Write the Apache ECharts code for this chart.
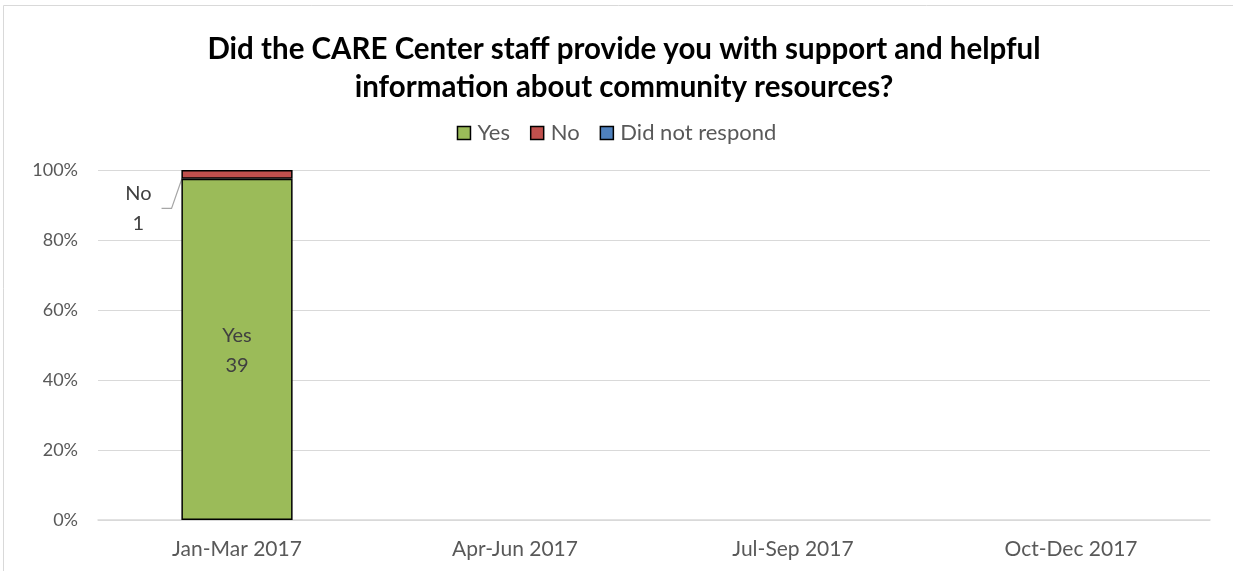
<!DOCTYPE html>
<html>
<head>
<meta charset="utf-8">
<script src="https://cdn.jsdelivr.net/npm/echarts@6/dist/echarts.min.js"></script>
<style>
  html, body { margin: 0; padding: 0; background: #fff; }
  #chart { width: 1233px; height: 571px; }
</style>
</head>
<body>
<div id="chart"></div>
<script>
// Quarterly survey responses (counts)
const categories = ['Jan-Mar 2017', 'Apr-Jun 2017', 'Jul-Sep 2017', 'Oct-Dec 2017'];
const yesCounts = [39, 0, 0, 0];
const noCounts = [1, 0, 0, 0];
const noResponseCounts = [0, 0, 0, 0];
const yTicks = [0, 20, 40, 60, 80, 100];

// Convert counts to shares of each quarter's total for the 100% stack;
// empty quarters get no bar at all
const totals = categories.map((_, i) => yesCounts[i] + noCounts[i] + noResponseCounts[i]);
const share = (arr) => arr.map((v, i) => (v && totals[i])
  ? { value: (v / totals[i]) * 100, count: v }
  : { value: null, count: 0 });

const FONT = 'Lato, "Open Sans", sans-serif';
const GREY = '#595959';

const chart = echarts.init(document.getElementById('chart'));
chart.setOption({
  animation: false,
  title: {
    text: 'Did the CARE Center staff provide you with support and helpful\ninformation about community resources?',
    left: 619,
    textAlign: 'center',
    top: 25,
    textStyle: {
      fontFamily: FONT,
      fontSize: 29.5,
      fontWeight: 'bold',
      color: '#000',
      lineHeight: 38
    }
  },
  legend: {
    top: 117,
    left: 'center',
    itemWidth: 13,
    itemHeight: 13,
    itemGap: 20,
    icon: 'rect',
    itemStyle: { borderColor: '#000', borderWidth: 1.5 },
    textStyle: { fontFamily: FONT, fontSize: 22, color: GREY, padding: [0, 0, 0, 2] },
    data: ['Yes', 'No', 'Did not respond']
  },
  grid: { left: 98, right: 23, top: 170, bottom: 51, containLabel: false },
  xAxis: {
    type: 'category',
    data: categories,
    axisTick: { show: false },
    axisLine: { lineStyle: { color: '#D9D9D9', width: 1.5 } },
    axisLabel: { fontFamily: FONT, fontSize: 21, color: GREY, margin: 19 }
  },
  yAxis: {
    type: 'value',
    min: yTicks[0],
    max: yTicks[yTicks.length - 1],
    interval: yTicks[1] - yTicks[0],
    axisLabel: { formatter: '{value}%', fontFamily: FONT, fontSize: 18, color: GREY, margin: 20 },
    splitLine: { lineStyle: { color: '#D9D9D9', width: 1.2 } },
    axisLine: { show: false },
    axisTick: { show: false }
  },
  series: [
    {
      name: 'Yes',
      type: 'bar',
      stack: 'total',
      barWidth: '40%',
      data: share(yesCounts),
      itemStyle: { color: '#9BBB59', borderColor: '#000', borderWidth: 1.5 },
      label: {
        show: true,
        position: 'inside',
        fontFamily: FONT,
        fontSize: 20,
        color: '#404040',
        lineHeight: 30,
        offset: [0, 1],
        formatter: (p) => p.data.count ? 'Yes\n' + p.data.count : ''
      }
    },
    {
      name: 'No',
      type: 'bar',
      stack: 'total',
      data: share(noCounts),
      itemStyle: { color: '#C0504D', borderColor: '#000', borderWidth: 1.5 },
      label: {
        show: true,
        position: 'left',
        fontFamily: FONT,
        fontSize: 20,
        color: '#404040',
        lineHeight: 30,
        align: 'center',
        padding: [0, 10, 0, 10],
        formatter: (p) => p.data.count ? 'No\n' + p.data.count : ''
      },
      labelLayout: { dx: -38, dy: 34 },
      labelLine: { show: true, length2: 10, lineStyle: { color: '#A6A6A6', width: 1.2 } }
    },
    {
      name: 'Did not respond',
      type: 'bar',
      stack: 'total',
      data: share(noResponseCounts),
      itemStyle: { color: '#4F81BD', borderColor: '#000', borderWidth: 1.5 },
      label: { show: false }
    }
  ],
  graphic: [
    {
      type: 'rect',
      shape: { x: 3.5, y: 5.5, width: 1240, height: 600 },
      style: { fill: 'none', stroke: '#D9D9D9', lineWidth: 1 },
      silent: true
    }
  ]
});
</script>
</body>
</html>
